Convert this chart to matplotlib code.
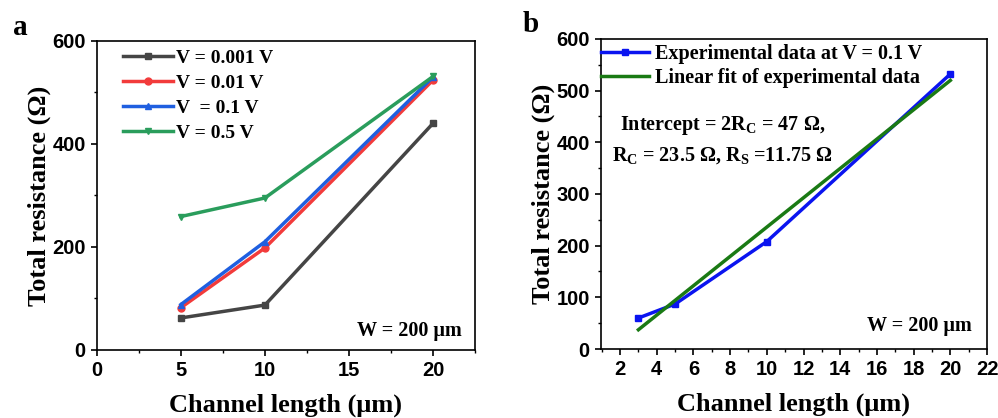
import numpy as np
import matplotlib
matplotlib.use('Agg')
import matplotlib.pyplot as plt
from matplotlib.ticker import MultipleLocator

# panel a data
length_a = [5, 10, 20]
r_0001 = [62, 87, 440]
r_001 = [82, 198, 524]
r_01 = [88, 210, 530]
r_05 = [259, 295, 531]

# panel b data
length_b = [3, 5, 10, 20]
r_exp = [60, 87, 208, 532]

serif = 'Liberation Serif'
sans = 'Liberation Sans'

plt.rcParams['mathtext.fontset'] = 'custom'
plt.rcParams['mathtext.rm'] = serif + ':bold'
plt.rcParams['mathtext.bf'] = serif + ':bold'
plt.rcParams['mathtext.it'] = serif + ':bold'

fig = plt.figure(figsize=(9.98, 4.18), dpi=100)
axa = fig.add_axes([0.097, 0.163, 0.379, 0.739])
axb = fig.add_axes([0.602, 0.165, 0.387, 0.742])

lw = 2.5
axa.plot(length_a, r_0001, color='#454545', marker='s', ms=5, lw=lw, label='V = 0.001 V')
axa.plot(length_a, r_001, color='#f23b3b', marker='o', ms=5, lw=lw, label='V = 0.01 V')
axa.plot(length_a, r_01, color='#1f5fe0', marker='^', ms=5, lw=lw, label='V  = 0.1 V')
axa.plot(length_a, r_05, color='#2a9d5c', marker='v', ms=5, lw=lw, label='V = 0.5 V')
axa.set_xlim(0, 22.5)
axa.set_ylim(0, 600)
axa.xaxis.set_major_locator(MultipleLocator(5))
axa.xaxis.set_minor_locator(MultipleLocator(2.5))
axa.yaxis.set_major_locator(MultipleLocator(200))
axa.yaxis.set_minor_locator(MultipleLocator(100))
axa.legend(loc='upper left', frameon=False, prop={'family': serif, 'weight': 'bold', 'size': 14},
           handlelength=2.6, handletextpad=0.15, labelspacing=0.38, borderaxespad=0.0,
           borderpad=0.2, bbox_to_anchor=(0.058, 0.985))
axa.text(0.965, 0.06, 'W = 200 μm', transform=axa.transAxes, ha='right', va='center',
         family=serif, weight='bold', fontsize=14.5)

fit = np.polyfit(length_b, r_exp, 1)
xfit = np.array([length_b[0], length_b[-1]])
axb.plot(length_b, r_exp, color='#0a14f0', marker='s', ms=5, lw=lw, label='Experimental data at V = 0.1 V')
axb.plot(xfit, np.polyval(fit, xfit), color='#1a7a14', lw=lw, label='Linear fit of experimental data')
axb.set_xlim(0.95, 22)
axb.set_ylim(0, 600)
axb.xaxis.set_major_locator(MultipleLocator(2))
axb.xaxis.set_minor_locator(MultipleLocator(1))
axb.yaxis.set_major_locator(MultipleLocator(100))
axb.yaxis.set_minor_locator(MultipleLocator(50))
axb.legend(loc='upper left', frameon=False, prop={'family': serif, 'weight': 'bold', 'size': 14.5},
           handlelength=2.4, handletextpad=0.3, labelspacing=0.2, borderaxespad=0.0,
           borderpad=0.1, bbox_to_anchor=(-0.005, 0.99))
axb.text(0.05, 0.72, r'Intercept = 2R$_\mathrm{C}$ = 47 Ω,', transform=axb.transAxes, ha='left', va='center',
         family=serif, weight='bold', fontsize=14.5)
axb.text(0.03, 0.625, r'R$_\mathrm{C}$ = 23.5 Ω, R$_\mathrm{S}$ =11.75 Ω', transform=axb.transAxes,
         ha='left', va='center', family=serif, weight='bold', fontsize=14.5)
axb.text(0.96, 0.075, 'W = 200 μm', transform=axb.transAxes, ha='right', va='center',
         family=serif, weight='bold', fontsize=14.5)

for ax in (axa, axb):
    ax.tick_params(which='major', direction='out', length=4, width=1.2, pad=4)
    ax.tick_params(which='minor', direction='out', length=2.5, width=1)
    for lab in ax.get_xticklabels() + ax.get_yticklabels():
        lab.set_family(sans)
        lab.set_weight('bold')
        lab.set_fontsize(14.5)
    for s in ax.spines.values():
        s.set_linewidth(1.2)
    ax.set_xlabel('Channel length (μm)', family=serif, weight='bold', fontsize=19, labelpad=10)
    ax.set_ylabel('Total resistance (Ω)', family=serif, weight='bold', fontsize=19, labelpad=1)

fig.text(0.013, 0.916, 'a', family=serif, weight='bold', fontsize=21)
fig.text(0.524, 0.923, 'b', family=serif, weight='bold', fontsize=21)

fig.savefig('out.png', dpi=100)
